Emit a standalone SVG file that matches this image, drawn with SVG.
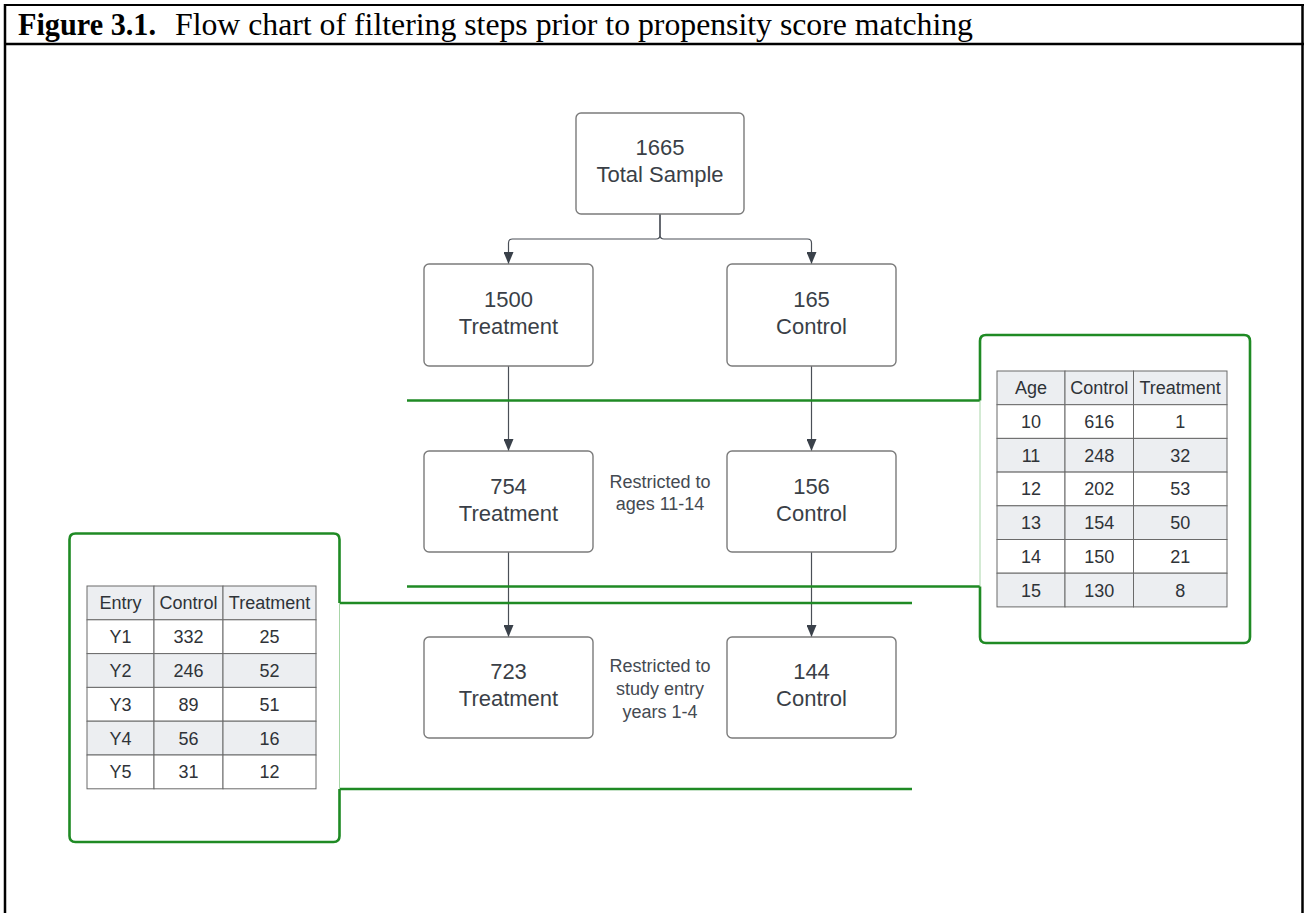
<svg xmlns="http://www.w3.org/2000/svg" width="1306" height="913" viewBox="0 0 1306 913">
<style>
.frame{stroke:#000;stroke-width:2.5;fill:none}
.box{fill:#fff;stroke:#7b7b7b;stroke-width:1.4}
.bt{font-family:"Liberation Sans",Arial,sans-serif;font-size:22px;fill:#3a3f47;text-anchor:middle}
.note{font-family:"Liberation Sans",Arial,sans-serif;font-size:18px;fill:#444a52;text-anchor:middle}
.conn{stroke:#4a4f57;stroke-width:1.2;fill:none}
.gl{stroke:#1f8a24;stroke-width:2.6;fill:none}
.gthin{stroke:#a8d5a8;stroke-width:1;fill:none}
.cell{stroke:#6a6a6a;stroke-width:1;fill:#fff}
.cg{fill:#eceef1}
.tt{font-family:"Liberation Sans",Arial,sans-serif;font-size:18px;fill:#2f3338;text-anchor:middle}
.title{font-family:"Liberation Serif","Times New Roman",serif;font-size:31px;fill:#000}
</style>
<defs>
<marker id="arr" viewBox="0 0 12 10" refX="12" refY="5" markerWidth="12" markerHeight="10" markerUnits="userSpaceOnUse" orient="auto">
<path d="M0,0 L12,5 L0,10 z" fill="#3a414a"/>
</marker>
</defs>
<rect width="1306" height="913" fill="#fff"/>
<g id="frame">
<line class="frame" x1="4" y1="5" x2="1304" y2="5" style="stroke-width:2"/>
<line class="frame" x1="4" y1="44" x2="1304" y2="44"/>
<line class="frame" x1="5" y1="4" x2="5" y2="913"/>
<line class="frame" x1="1302.5" y1="4" x2="1302.5" y2="913"/>
<text class="title" x="18" y="35" font-weight="bold" textLength="138" lengthAdjust="spacingAndGlyphs">Figure 3.1.</text>
<text class="title" x="175" y="35" textLength="798" lengthAdjust="spacingAndGlyphs">Flow chart of filtering steps prior to propensity score matching</text>
</g>
<g id="connectors">
<path class="conn" d="M660,214 V235 Q660,239 656,239 H512.5 Q508.5,239 508.5,243 V264" marker-end="url(#arr)"/>
<path class="conn" d="M660,214 V235 Q660,239 664,239 H807.5 Q811.5,239 811.5,243 V264" marker-end="url(#arr)"/>
<path class="conn" d="M508.5,366 V451" marker-end="url(#arr)"/>
<path class="conn" d="M811.5,366 V451" marker-end="url(#arr)"/>
<path class="conn" d="M508.5,552 V637" marker-end="url(#arr)"/>
<path class="conn" d="M811.5,552 V637" marker-end="url(#arr)"/>
<path class="gl" d="M407,400.5 H980"/>
<path class="gl" d="M407,586.5 H980"/>
<path class="gl" d="M339.5,603 H912"/>
<path class="gl" d="M339.5,789 H912"/>
</g>
<g id="n-total">
<rect class="box" x="576" y="113" width="168" height="101" rx="5"/>
<text class="bt" x="660" y="155">1665</text>
<text class="bt" x="660" y="182">Total Sample</text>
</g>
<g id="n-t1500">
<rect class="box" x="424" y="264" width="169" height="102" rx="5"/>
<text class="bt" x="508.5" y="307">1500</text>
<text class="bt" x="508.5" y="334">Treatment</text>
</g>
<g id="n-c165">
<rect class="box" x="727" y="264" width="169" height="102" rx="5"/>
<text class="bt" x="811.5" y="307">165</text>
<text class="bt" x="811.5" y="334">Control</text>
</g>
<g id="n-t754">
<rect class="box" x="424" y="451" width="169" height="101" rx="5"/>
<text class="bt" x="508.5" y="494">754</text>
<text class="bt" x="508.5" y="521">Treatment</text>
</g>
<g id="n-c156">
<rect class="box" x="727" y="451" width="169" height="101" rx="5"/>
<text class="bt" x="811.5" y="494">156</text>
<text class="bt" x="811.5" y="521">Control</text>
</g>
<g id="n-t723">
<rect class="box" x="424" y="637" width="169" height="101" rx="5"/>
<text class="bt" x="508.5" y="679">723</text>
<text class="bt" x="508.5" y="706">Treatment</text>
</g>
<g id="n-c144">
<rect class="box" x="727" y="637" width="169" height="101" rx="5"/>
<text class="bt" x="811.5" y="679">144</text>
<text class="bt" x="811.5" y="706">Control</text>
</g>
<g id="n-note-age">
<text class="note" x="660" y="487.5">Restricted to</text>
<text class="note" x="660" y="510">ages 11-14</text>
</g>
<g id="n-note-entry">
<text class="note" x="660" y="672">Restricted to</text>
<text class="note" x="660" y="695">study entry</text>
<text class="note" x="660" y="718">years 1-4</text>
</g>
<g id="n-age-table">
<path class="gthin" d="M980,400.5 V586.5"/>
<path class="gl" d="M980,400.5 V341 Q980,335 986,335 H1244 Q1250,335 1250,341 V637 Q1250,643 1244,643 H986 Q980,643 980,637 V586.5"/>
<g>
<rect class="cell cg" x="997" y="371" width="68" height="33.7"/><rect class="cell cg" x="1065" y="371" width="68.5" height="33.7"/><rect class="cell cg" x="1133.5" y="371" width="93.5" height="33.7"/>
<rect class="cell" x="997" y="404.7" width="68" height="33.7"/><rect class="cell" x="1065" y="404.7" width="68.5" height="33.7"/><rect class="cell" x="1133.5" y="404.7" width="93.5" height="33.7"/>
<rect class="cell cg" x="997" y="438.4" width="68" height="33.7"/><rect class="cell cg" x="1065" y="438.4" width="68.5" height="33.7"/><rect class="cell cg" x="1133.5" y="438.4" width="93.5" height="33.7"/>
<rect class="cell" x="997" y="472.1" width="68" height="33.7"/><rect class="cell" x="1065" y="472.1" width="68.5" height="33.7"/><rect class="cell" x="1133.5" y="472.1" width="93.5" height="33.7"/>
<rect class="cell cg" x="997" y="505.8" width="68" height="33.7"/><rect class="cell cg" x="1065" y="505.8" width="68.5" height="33.7"/><rect class="cell cg" x="1133.5" y="505.8" width="93.5" height="33.7"/>
<rect class="cell" x="997" y="539.5" width="68" height="33.7"/><rect class="cell" x="1065" y="539.5" width="68.5" height="33.7"/><rect class="cell" x="1133.5" y="539.5" width="93.5" height="33.7"/>
<rect class="cell cg" x="997" y="573.2" width="68" height="33.7"/><rect class="cell cg" x="1065" y="573.2" width="68.5" height="33.7"/><rect class="cell cg" x="1133.5" y="573.2" width="93.5" height="33.7"/>
</g>
<text class="tt" x="1031" y="394.3">Age</text><text class="tt" x="1099.2" y="394.3">Control</text><text class="tt" x="1180.2" y="394.3">Treatment</text>
<text class="tt" x="1031" y="428">10</text><text class="tt" x="1099.2" y="428">616</text><text class="tt" x="1180.2" y="428">1</text>
<text class="tt" x="1031" y="461.7">11</text><text class="tt" x="1099.2" y="461.7">248</text><text class="tt" x="1180.2" y="461.7">32</text>
<text class="tt" x="1031" y="495.4">12</text><text class="tt" x="1099.2" y="495.4">202</text><text class="tt" x="1180.2" y="495.4">53</text>
<text class="tt" x="1031" y="529.1">13</text><text class="tt" x="1099.2" y="529.1">154</text><text class="tt" x="1180.2" y="529.1">50</text>
<text class="tt" x="1031" y="562.8">14</text><text class="tt" x="1099.2" y="562.8">150</text><text class="tt" x="1180.2" y="562.8">21</text>
<text class="tt" x="1031" y="596.5">15</text><text class="tt" x="1099.2" y="596.5">130</text><text class="tt" x="1180.2" y="596.5">8</text>
</g>
<g id="n-entry-table">
<path class="gthin" d="M339.5,603 V789"/>
<path class="gl" d="M339.5,603 V539.5 Q339.5,533.5 333.5,533.5 H75.5 Q69.5,533.5 69.5,539.5 V836 Q69.5,842 75.5,842 H333.5 Q339.5,842 339.5,836 V789"/>
<g>
<rect class="cell cg" x="87" y="586" width="67" height="33.8"/><rect class="cell cg" x="154" y="586" width="69" height="33.8"/><rect class="cell cg" x="223" y="586" width="93" height="33.8"/>
<rect class="cell" x="87" y="619.8" width="67" height="33.8"/><rect class="cell" x="154" y="619.8" width="69" height="33.8"/><rect class="cell" x="223" y="619.8" width="93" height="33.8"/>
<rect class="cell cg" x="87" y="653.6" width="67" height="33.8"/><rect class="cell cg" x="154" y="653.6" width="69" height="33.8"/><rect class="cell cg" x="223" y="653.6" width="93" height="33.8"/>
<rect class="cell" x="87" y="687.4" width="67" height="33.8"/><rect class="cell" x="154" y="687.4" width="69" height="33.8"/><rect class="cell" x="223" y="687.4" width="93" height="33.8"/>
<rect class="cell cg" x="87" y="721.2" width="67" height="33.8"/><rect class="cell cg" x="154" y="721.2" width="69" height="33.8"/><rect class="cell cg" x="223" y="721.2" width="93" height="33.8"/>
<rect class="cell" x="87" y="755" width="67" height="33.8"/><rect class="cell" x="154" y="755" width="69" height="33.8"/><rect class="cell" x="223" y="755" width="93" height="33.8"/>
</g>
<text class="tt" x="120.5" y="609.4">Entry</text><text class="tt" x="188.5" y="609.4">Control</text><text class="tt" x="269.5" y="609.4">Treatment</text>
<text class="tt" x="120.5" y="643.2">Y1</text><text class="tt" x="188.5" y="643.2">332</text><text class="tt" x="269.5" y="643.2">25</text>
<text class="tt" x="120.5" y="677">Y2</text><text class="tt" x="188.5" y="677">246</text><text class="tt" x="269.5" y="677">52</text>
<text class="tt" x="120.5" y="710.8">Y3</text><text class="tt" x="188.5" y="710.8">89</text><text class="tt" x="269.5" y="710.8">51</text>
<text class="tt" x="120.5" y="744.6">Y4</text><text class="tt" x="188.5" y="744.6">56</text><text class="tt" x="269.5" y="744.6">16</text>
<text class="tt" x="120.5" y="778.4">Y5</text><text class="tt" x="188.5" y="778.4">31</text><text class="tt" x="269.5" y="778.4">12</text>
</g>
</svg>
